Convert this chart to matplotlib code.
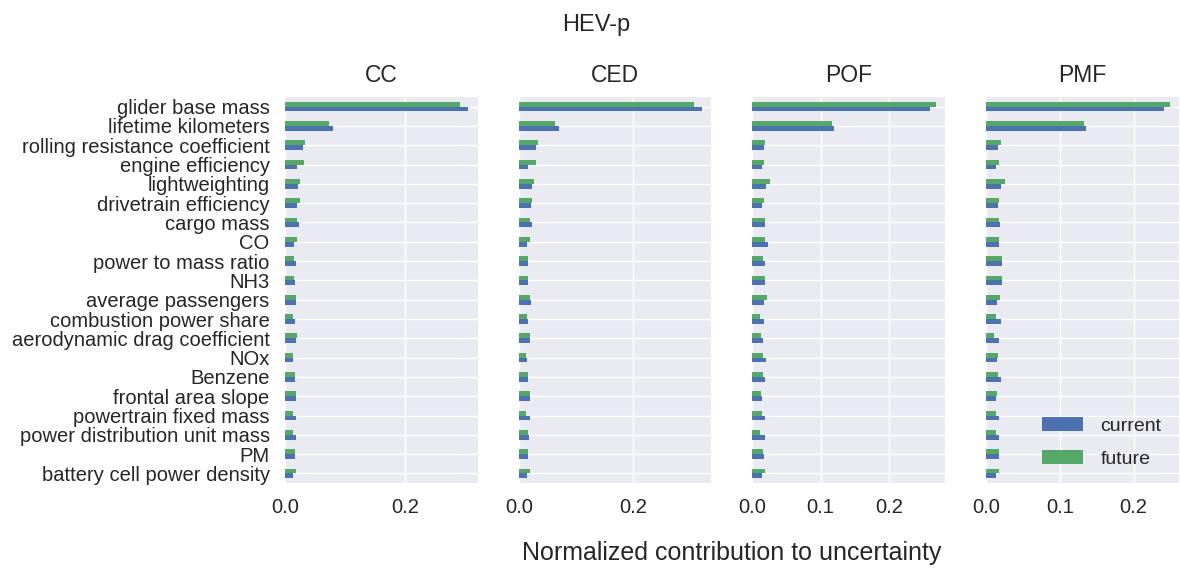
import numpy as np
import matplotlib
matplotlib.use('Agg')
import matplotlib.pyplot as plt

plt.style.use('seaborn-v0_8')
plt.rcParams['font.family'] = ['Liberation Sans', 'DejaVu Sans']

# parameters, top to bottom as shown
params = ['glider base mass', 'lifetime kilometers', 'rolling resistance coefficient',
          'engine efficiency', 'lightweighting', 'drivetrain efficiency', 'cargo mass',
          'CO', 'power to mass ratio', 'NH3', 'average passengers',
          'combustion power share', 'aerodynamic drag coefficient', 'NOx', 'Benzene',
          'frontal area slope', 'powertrain fixed mass', 'power distribution unit mass',
          'PM', 'battery cell power density']

indicators = ['CC', 'CED', 'POF', 'PMF']

cc_current = [0.305, 0.080, 0.030, 0.020, 0.021, 0.020, 0.023, 0.015, 0.018, 0.017,
              0.019, 0.017, 0.018, 0.014, 0.016, 0.018, 0.019, 0.018, 0.017, 0.014]
cc_future = [0.291, 0.074, 0.034, 0.032, 0.025, 0.025, 0.020, 0.020, 0.015, 0.015,
             0.018, 0.013, 0.020, 0.013, 0.016, 0.019, 0.013, 0.014, 0.016, 0.018]

ced_current = [0.320, 0.070, 0.031, 0.017, 0.024, 0.021, 0.024, 0.015, 0.017, 0.017,
               0.022, 0.016, 0.019, 0.015, 0.017, 0.019, 0.019, 0.018, 0.017, 0.015]
ced_future = [0.305, 0.064, 0.034, 0.031, 0.026, 0.023, 0.020, 0.020, 0.016, 0.016,
              0.020, 0.015, 0.020, 0.012, 0.017, 0.020, 0.013, 0.016, 0.017, 0.019]

pof_current = [0.261, 0.120, 0.017, 0.014, 0.020, 0.014, 0.019, 0.023, 0.018, 0.018,
               0.017, 0.017, 0.015, 0.020, 0.018, 0.014, 0.019, 0.019, 0.017, 0.014]
pof_future = [0.269, 0.116, 0.018, 0.017, 0.026, 0.017, 0.019, 0.018, 0.016, 0.019,
              0.021, 0.011, 0.012, 0.015, 0.016, 0.013, 0.014, 0.011, 0.015, 0.018]

pmf_current = [0.241, 0.135, 0.016, 0.013, 0.020, 0.016, 0.019, 0.017, 0.022, 0.021,
               0.015, 0.020, 0.017, 0.015, 0.020, 0.013, 0.018, 0.017, 0.017, 0.014]
pmf_future = [0.249, 0.133, 0.020, 0.017, 0.026, 0.017, 0.017, 0.017, 0.022, 0.021,
              0.019, 0.013, 0.011, 0.016, 0.016, 0.015, 0.013, 0.013, 0.017, 0.018]

current = [cc_current, ced_current, pof_current, pmf_current]
future = [cc_future, ced_future, pof_future, pmf_future]
xticks = [[0.0, 0.2], [0.0, 0.2], [0.0, 0.1, 0.2], [0.0, 0.1, 0.2]]

c_blue = '#4C72B0'
c_green = '#55A868'

fig, axes = plt.subplots(1, 4, figsize=(11.8, 5.69), dpi=100, sharey=True)
fig.subplots_adjust(left=0.2415, right=0.999, top=0.8295, bottom=0.151, wspace=0.213)

n = len(params)
# first parameter at top
ypos = np.arange(n)[::-1]
h = 0.25

for ax, name, cur, fut, xt in zip(axes, indicators, current, future, xticks):
    ax.barh(ypos - h / 2, cur, height=h, color=c_blue, label='current')
    ax.barh(ypos + h / 2, fut, height=h, color=c_green, label='future')
    ax.set_title(name, fontsize=16.5, pad=11, color='.15')
    ax.set_xlim(0, max(max(cur), max(fut)) * 1.05)
    ax.set_ylim(-0.5, n - 0.5)
    ax.set_xticks(xt)
    ax.set_xticklabels([f'{t:.1f}' for t in xt])
    ax.tick_params(axis='x', labelsize=14.5, colors='.15', length=0, pad=11)
    ax.tick_params(axis='y', labelsize=14.5, colors='.15', length=0, pad=11)

axes[0].set_yticks(ypos)
axes[0].set_yticklabels(params)

axes[3].legend(loc='lower right', fontsize=14, frameon=False,
               handlelength=2.1, handleheight=0.75, handletextpad=0.9,
               labelspacing=0.75, bbox_to_anchor=(1.0, -0.005))

fig.suptitle('HEV-p', fontsize=17, y=0.975, x=0.505, color='.15')
fig.text(0.62, 0.015, 'Normalized contribution to uncertainty', ha='center',
         fontsize=18, color='.15')

fig.savefig('out.png', dpi=100)
